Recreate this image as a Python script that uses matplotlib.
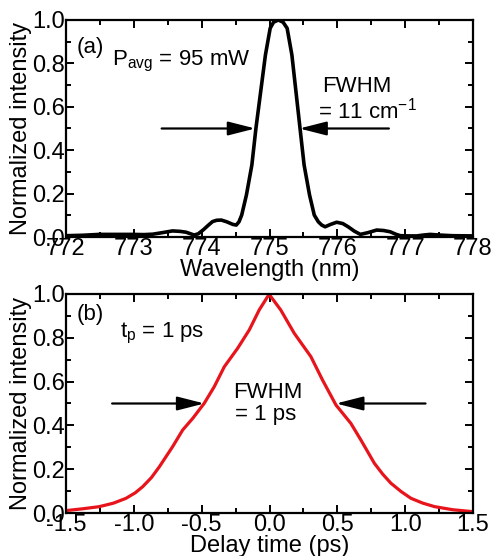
import matplotlib
matplotlib.use("Agg")
import matplotlib.pyplot as plt
from matplotlib.ticker import MultipleLocator, FormatStrFormatter

plt.rcParams['font.family'] = ['Liberation Sans', 'DejaVu Sans']
plt.rcParams['axes.unicode_minus'] = False

# Panel (a): spectrum
wl = [772.0, 772.25, 772.49, 772.75, 772.98, 773.15, 773.28, 773.42, 773.57, 773.68,
      773.77, 773.89, 773.95, 774.02, 774.09, 774.16, 774.22, 774.29, 774.37, 774.46,
      774.51, 774.55, 774.59, 774.66, 774.74, 774.80, 774.87, 774.94, 775.01, 775.06,
      775.13, 775.20, 775.26, 775.33, 775.39, 775.45, 775.51, 775.59, 775.66, 775.72,
      775.77, 775.82, 775.90, 775.99, 776.08, 776.16, 776.25, 776.34, 776.45, 776.58,
      776.68, 776.78, 776.86, 776.93, 777.05, 777.17, 777.27, 777.37, 777.5, 777.7, 778.0]
inten_a = [0.006, 0.008, 0.012, 0.012, 0.012, 0.011, 0.013, 0.020, 0.028, 0.026,
           0.022, 0.009, 0.015, 0.032, 0.052, 0.071, 0.077, 0.078, 0.070, 0.058,
           0.055, 0.070, 0.101, 0.194, 0.332, 0.501, 0.670, 0.839, 0.962, 0.99,
           1.0, 0.99, 0.962, 0.839, 0.670, 0.501, 0.332, 0.194, 0.101, 0.070,
           0.055, 0.047, 0.058, 0.068, 0.062, 0.047, 0.027, 0.012, 0.020, 0.032,
           0.030, 0.024, 0.013, 0.006, 0.005, 0.005, 0.009, 0.012, 0.009, 0.006, 0.005]

# Panel (b): autocorrelation
delay = [-1.5, -1.38, -1.255, -1.15, -1.058, -0.99, -0.935, -0.87, -0.812, -0.714,
         -0.640, -0.566, -0.481, -0.407, -0.333, -0.235, -0.149, -0.076, -0.014, 0.0,
         0.01, 0.083, 0.182, 0.305, 0.391, 0.490, 0.600, 0.674, 0.773, 0.835,
         0.895, 0.97, 1.043, 1.13, 1.217, 1.35, 1.5]
inten_b = [0.011, 0.019, 0.029, 0.045, 0.067, 0.092, 0.120, 0.162, 0.211, 0.303,
           0.379, 0.432, 0.501, 0.577, 0.668, 0.752, 0.836, 0.927, 0.988, 1.0,
           0.988, 0.927, 0.821, 0.714, 0.607, 0.493, 0.409, 0.333, 0.227, 0.177,
           0.136, 0.098, 0.067, 0.045, 0.029, 0.015, 0.006]

FS = 17
AFS = 16
fig = plt.figure(figsize=(4.92, 5.56), dpi=100)
W, H = 492, 556
axa = fig.add_axes([66 / W, 1 - 237 / H, (473 - 66) / W, (237 - 20) / H])
axb = fig.add_axes([66 / W, 1 - 513 / H, (473 - 66) / W, (513 - 294) / H])


def style(ax):
    for s in ax.spines.values():
        s.set_linewidth(1.6)
    ax.tick_params(which='both', direction='in', top=True, right=True, width=1.4,
                   labelsize=FS)
    ax.tick_params(which='major', length=6, pad=1)
    ax.tick_params(which='minor', length=3.5)
    ax.set_ylim(0, 1.0)
    ax.yaxis.set_major_locator(MultipleLocator(0.2))
    ax.yaxis.set_minor_locator(MultipleLocator(0.1))
    ax.yaxis.set_major_formatter(FormatStrFormatter('%.1f'))
    ax.set_ylabel('Normalized intensity', fontsize=FS, labelpad=0)


arrow_kw = dict(arrowstyle='-|>,head_length=1.65,head_width=0.42', color='black', lw=1.6,
                shrinkA=0, shrinkB=0)

axa.plot(wl, inten_a, color='black', lw=2.6, solid_joinstyle='round')
axa.set_xlim(772, 778)
axa.xaxis.set_major_locator(MultipleLocator(1))
axa.xaxis.set_minor_locator(MultipleLocator(0.5))
style(axa)
axa.set_xlabel('Wavelength (nm)', fontsize=FS, labelpad=-1)
axa.text(772.16, 0.85, '(a)', fontsize=AFS, va='baseline')
axa.text(772.68, 0.79, r'P$_{\mathregular{avg}}$ = 95 mW', fontsize=AFS, va='baseline')
axa.text(775.78, 0.668, 'FWHM', fontsize=AFS, va='baseline')
axa.text(775.72, 0.548, r'= 11 cm$^{\mathregular{-1}}$', fontsize=AFS, va='baseline')
axa.annotate('', xy=(774.79, 0.5), xytext=(773.41, 0.5), arrowprops=arrow_kw)
axa.annotate('', xy=(775.44, 0.5), xytext=(776.76, 0.5), arrowprops=arrow_kw)

axb.plot(delay, inten_b, color='#e8141c', lw=2.3, solid_joinstyle='round')
axb.set_xlim(-1.5, 1.5)
axb.xaxis.set_major_locator(MultipleLocator(0.5))
axb.xaxis.set_minor_locator(MultipleLocator(0.25))
axb.xaxis.set_major_formatter(FormatStrFormatter('%.1f'))
style(axb)
axb.set_xlabel('Delay time (ps)', fontsize=FS, labelpad=-1)
axb.text(-1.42, 0.88, '(b)', fontsize=AFS, va='baseline')
axb.text(-1.10, 0.80, r't$_{\mathregular{p}}$ = 1 ps', fontsize=AFS, va='baseline')
axb.text(-0.01, 0.525, 'FWHM', fontsize=AFS, va='baseline', ha='center')
axb.text(-0.03, 0.425, '= 1 ps', fontsize=AFS, va='baseline', ha='center')
axb.annotate('', xy=(-0.48, 0.5), xytext=(-1.16, 0.5), arrowprops=arrow_kw)
axb.annotate('', xy=(0.49, 0.5), xytext=(1.15, 0.5), arrowprops=arrow_kw)

fig.savefig('out.png', dpi=100)
